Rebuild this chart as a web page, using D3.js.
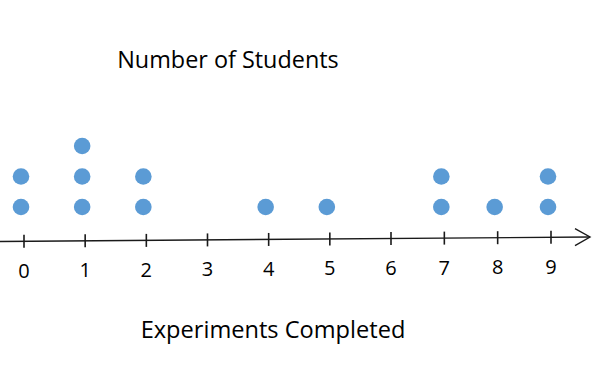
<!DOCTYPE html>
<html><head><meta charset="utf-8">
<script src="https://cdn.jsdelivr.net/npm/d3@7/dist/d3.min.js"></script>
<style>html,body{margin:0;padding:0;background:#fff;}svg{display:block;}</style>
</head><body>
<script>
const categories = [0,1,2,3,4,5,6,7,8,9];
const counts = [2,3,2,0,1,1,0,2,1,2];
const tickLabels = ["0","1","2","3","4","5","6","7","8","9"];
const title = "Number of Students";
const xTitle = "Experiments Completed";

const W = 600, H = 386;
const svg = d3.select("body").append("svg").attr("width", W).attr("height", H);

// hand-drawn axis: slight slope and uneven spacing
const x = d3.scaleLinear().domain([0, 6, 9]).range([24, 391, 551]);
const axisY = d3.scaleLinear().domain([0, 590]).range([241.5, 237]);
const level = d3.scaleLinear().domain([1, 3]).range([207, 146]);

const ink = "#1a1a1a";
const font = "'Open Sans', sans-serif";

// axis line with arrow
svg.append("line").attr("x1", 0).attr("y1", axisY(0)).attr("x2", 590).attr("y2", axisY(590))
  .attr("stroke", ink).attr("stroke-width", 1.4);
svg.append("path")
  .attr("d", `M575,${axisY(575)-8.5}L590,${axisY(590)}L575,${axisY(575)+8.5}`)
  .attr("fill", "none").attr("stroke", ink).attr("stroke-width", 1.4);

// ticks
svg.selectAll("line.tick").data(categories).enter().append("line")
  .attr("class", "tick")
  .attr("x1", d => x(d)).attr("x2", d => x(d))
  .attr("y1", d => axisY(x(d)) - 6.5).attr("y2", d => axisY(x(d)) + 6.5)
  .attr("stroke", ink).attr("stroke-width", 1.6);

svg.selectAll("text.tl").data(categories).enter().append("text")
  .attr("class", "tl")
  .attr("x", d => x(d)).attr("y", d => axisY(x(d)) + 29)
  .attr("text-anchor", "middle").attr("dominant-baseline", "central")
  .attr("font-family", font).attr("font-size", 20).attr("fill", "#000")
  .text((d, i) => tickLabels[i]);

// dots
const dots = [];
categories.forEach((c, i) => { for (let k = 1; k <= counts[i]; k++) dots.push({c, k}); });
svg.selectAll("circle").data(dots).enter().append("circle")
  .attr("cx", d => x(d.c) - 3).attr("cy", d => level(d.k))
  .attr("r", 8.3).attr("fill", "#5b9bd5");

// titles
svg.append("text").attr("x", 228).attr("y", 68).attr("text-anchor", "middle")
  .attr("font-family", font).attr("font-size", 23.4).attr("fill", "#000").text(title);
svg.append("text").attr("x", 273).attr("y", 338).attr("text-anchor", "middle")
  .attr("font-family", font).attr("font-size", 23.6).attr("fill", "#000").text(xTitle);
</script>
</body></html>
